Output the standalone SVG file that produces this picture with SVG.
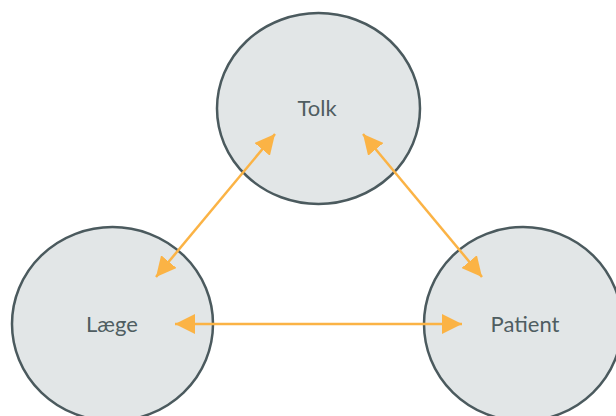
<svg xmlns="http://www.w3.org/2000/svg" width="616" height="416" viewBox="0 0 616 416">
<style>
.node ellipse{fill:#e2e6e7;stroke:#4b5a5e;stroke-width:2.5}
.node text{font-family:Lato,"Open Sans","Liberation Sans",sans-serif;font-size:22px;fill:#4f5d61;text-anchor:middle}
.conn line{stroke:#fbb345;stroke-width:2.5}
</style>
<defs>
<marker id="ah" viewBox="0 0 10 10" refX="10" refY="5" markerWidth="20" markerHeight="20" markerUnits="userSpaceOnUse" orient="auto-start-reverse">
<path d="M0,0 L10,5 L0,10 z" fill="#fbb345"/>
</marker>
</defs>
<g id="tolk" class="node"><ellipse cx="318.5" cy="108.5" rx="101.5" ry="95.5"/><text x="317" y="116">Tolk</text></g>
<g id="laege" class="node"><ellipse cx="112.5" cy="324" rx="100.5" ry="97"/><text x="112" y="332">Læge</text></g>
<g id="patient" class="node"><ellipse cx="523" cy="324" rx="99" ry="97"/><text x="525" y="332">Patient</text></g>
<g id="connectors" class="conn">
<line x1="156" y1="277" x2="275" y2="134" marker-start="url(#ah)" marker-end="url(#ah)"/>
<line x1="482" y1="277" x2="363" y2="134" marker-start="url(#ah)" marker-end="url(#ah)"/>
<line x1="175" y1="324" x2="462" y2="324" marker-start="url(#ah)" marker-end="url(#ah)"/>
</g>
</svg>
